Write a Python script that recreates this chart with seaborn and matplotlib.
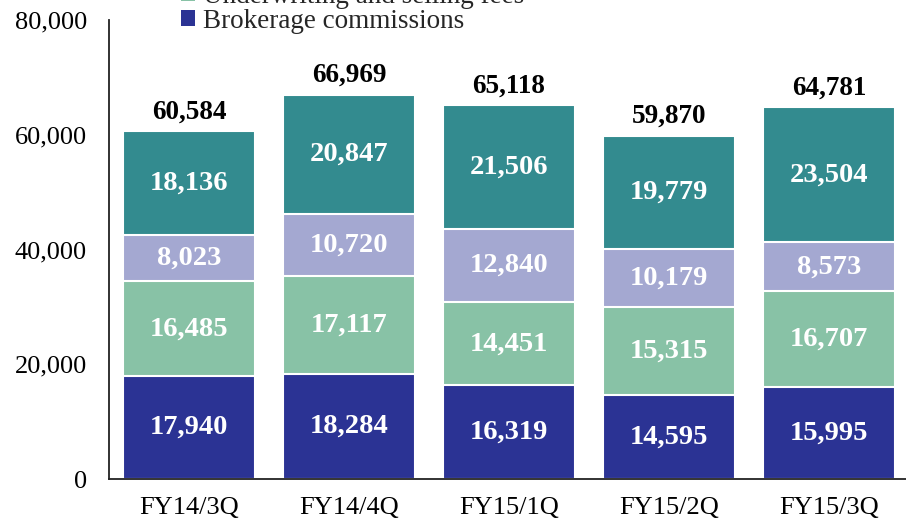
import seaborn as sns
import matplotlib.pyplot as plt
from matplotlib.patches import Patch
import pandas as pd

sns.set_style("white")
plt.rcParams["font.family"] = ["Liberation Serif", "DejaVu Serif"]

# Data (millions of yen), bottom to top
quarters = ["FY14/3Q", "FY14/4Q", "FY15/1Q", "FY15/2Q", "FY15/3Q"]
brokerage = [17940, 18284, 16319, 14595, 15995]
underwriting = [16485, 17117, 14451, 15315, 16707]
offering = [8023, 10720, 12840, 10179, 8573]
other = [18136, 20847, 21506, 19779, 23504]
totals = [60584, 66969, 65118, 59870, 64781]

series_names = ["Brokerage commissions", "Underwriting and selling fees",
                "Offering and secondary fees", "Other"]
series_vals = [brokerage, underwriting, offering, other]
colors = ["#2B3394", "#88C2A6", "#A4A8D1", "#338B8F"]

df = pd.DataFrame({"Quarter": quarters})
cum = [0] * len(quarters)
for name, vals in zip(series_names, series_vals):
    cum = [c + v for c, v in zip(cum, vals)]
    df[name] = cum

fig = plt.figure(figsize=(9.06, 5.18), dpi=100)
ax = fig.add_axes([109 / 906, 39 / 518, 800 / 906, 459 / 518])

# draw cumulative bars from the top layer down so lower ones sit in front
for name, col in reversed(list(zip(series_names, colors))):
    sns.barplot(data=df, x="Quarter", y=name, color=col, width=0.82,
                edgecolor="white", linewidth=1.5, saturation=1, ax=ax)

# segment labels
for name, vals in zip(series_names, series_vals):
    for i, v in enumerate(vals):
        top = df[name][i]
        ax.text(i, top - v / 2, f"{v:,}", ha="center", va="center",
                color="white", fontsize=20.5, fontweight="bold")

for i, t in enumerate(totals):
    ax.annotate(f"{t:,}", (i, t), xytext=(0, 14), textcoords="offset points",
                ha="center", va="center", fontsize=19.5, fontweight="bold",
                color="black")

ax.set_xlim(-0.5, 4.5)
ax.set_ylim(0, 80000)
ax.set_yticks(range(0, 80001, 20000))
ax.set_yticklabels([f"{v:,}" for v in range(0, 80001, 20000)])
ax.set_xlabel("")
ax.set_ylabel("")
ax.set_xticks(range(5))
ax.set_xticklabels(quarters)
ax.set_xticks([0.5, 1.5, 2.5, 3.5, 4.5], minor=True)
ax.tick_params(axis="y", direction="in", length=8, width=1.3, pad=16,
               labelsize=19, labelcolor="black", color="#222222")
ax.tick_params(axis="x", which="major", length=0, pad=13, labelsize=19,
               labelcolor="black")
ax.tick_params(axis="x", which="minor", direction="in", length=8, width=1.3,
               color="#222222")
for s in ["top", "right"]:
    ax.spines[s].set_visible(False)
for s in ["left", "bottom"]:
    ax.spines[s].set_linewidth(1.3)
    ax.spines[s].set_color("#222222")

handles = [Patch(facecolor=c, edgecolor="none") for c in colors]
fig.legend(list(reversed(handles)), list(reversed(series_names)),
           loc="lower left", bbox_to_anchor=(0.2, 0.935), frameon=False,
           fontsize=19.5, handlelength=0.5, handleheight=0.5,
           handletextpad=0.3, labelspacing=0.0, borderpad=0,
           borderaxespad=0)

fig.savefig("out.png", dpi=100)
plt.close()
